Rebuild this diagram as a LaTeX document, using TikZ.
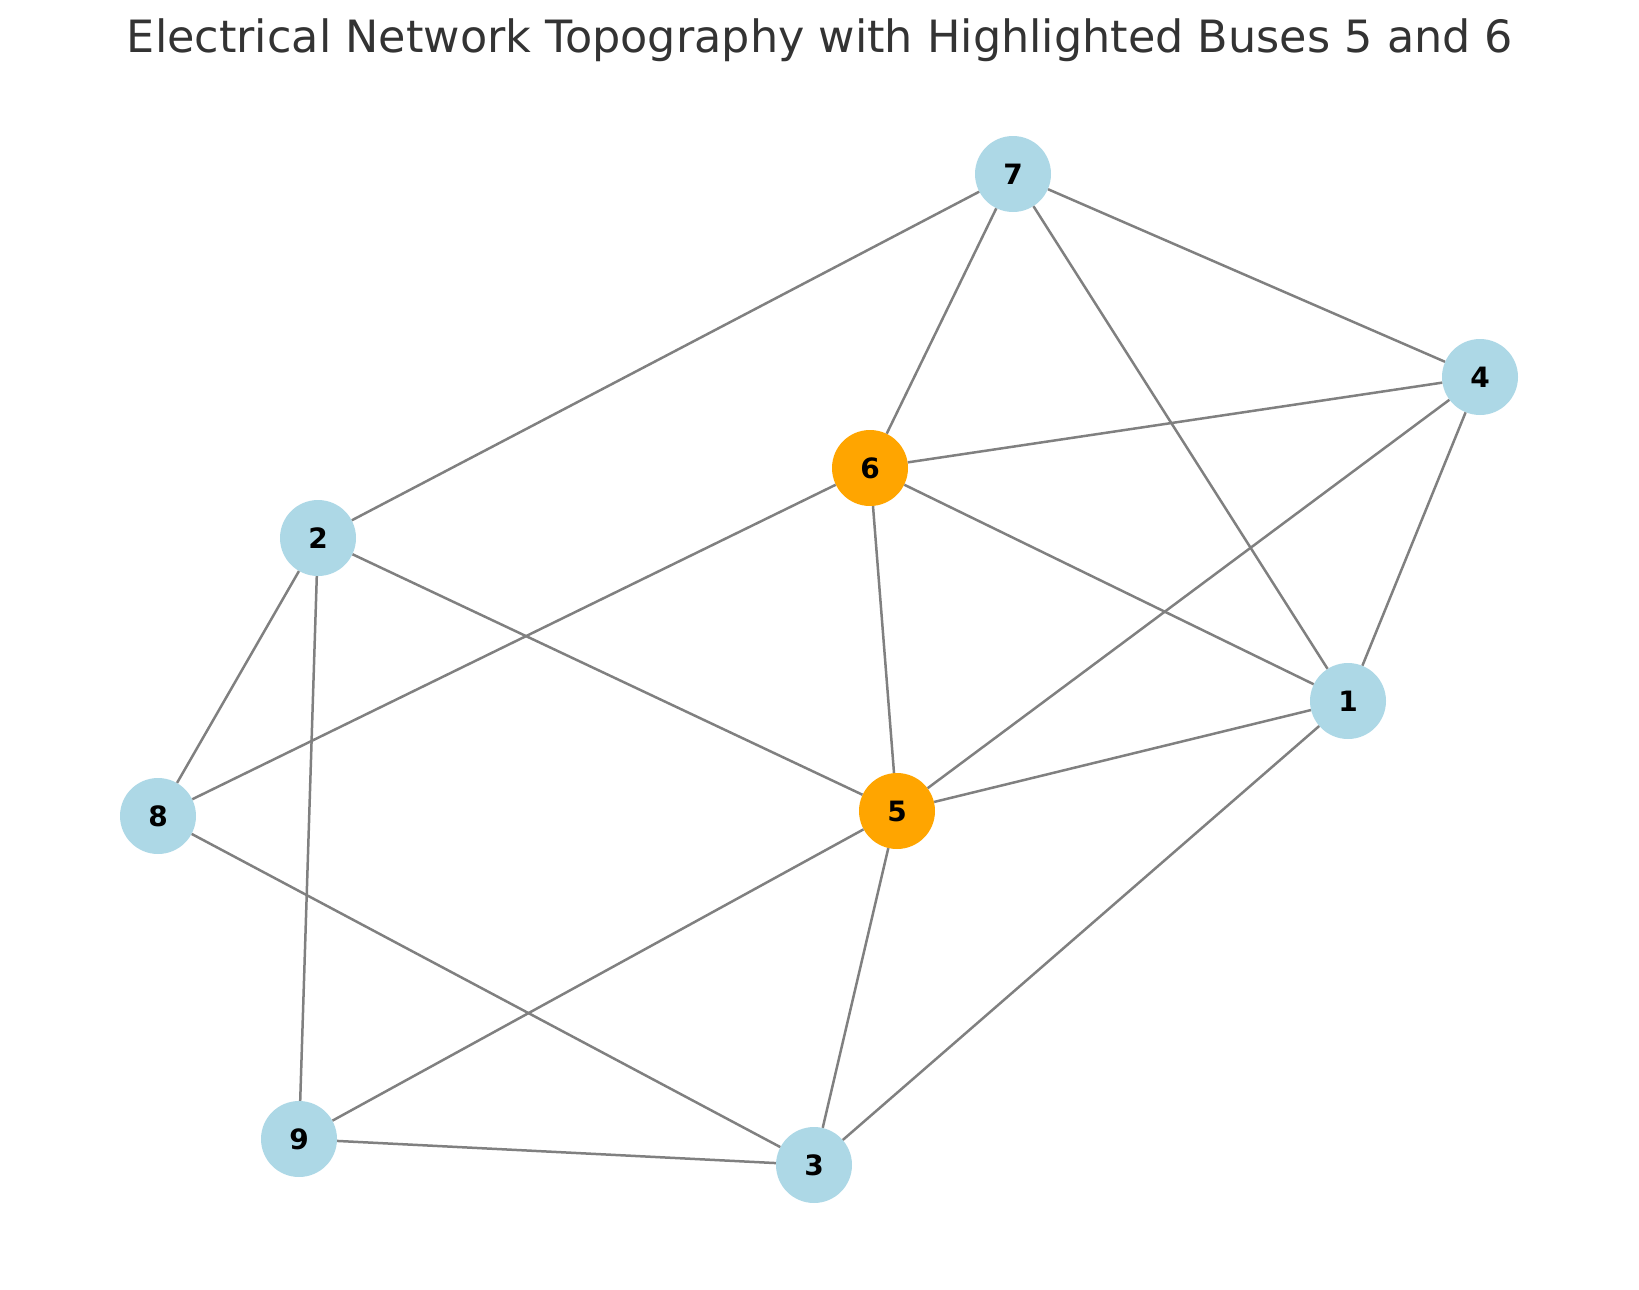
\documentclass[tikz,border=0pt]{standalone}
\usepackage{fontspec}
\setmainfont{DejaVu Sans}
\begin{document}
\begin{tikzpicture}[x=1pt,y=-1pt,
  bus/.style={circle,fill=lb,minimum size=76pt,inner sep=0pt,font=\fontsize{28}{30}\selectfont\bfseries},
  hbus/.style={bus,fill=hl},
  edge/.style={draw=edgegray,line width=2.5pt}]
\definecolor{lb}{HTML}{ADD8E6}
\definecolor{hl}{HTML}{FFA500}
\definecolor{edgegray}{HTML}{808080}
\definecolor{titlec}{HTML}{333333}
\useasboundingbox (0,0) rectangle (1639,1290);
\node[text=titlec,font=\fontsize{44.5}{50}\selectfont] (title) at (820,40) {Electrical Network Topography with Highlighted Buses 5 and 6};
\node[bus]  (n7) at (1013,174) {7};
\node[bus]  (n4) at (1480,377) {4};
\node[hbus] (n6) at (870,468) {6};
\node[bus]  (n2) at (318,538) {2};
\node[bus]  (n1) at (1348,701) {1};
\node[bus]  (n8) at (158,816) {8};
\node[hbus] (n5) at (897,811) {5};
\node[bus]  (n9) at (299,1139) {9};
\node[bus]  (n3) at (814,1165) {3};
\foreach \a/\b in {n7/n2,n7/n6,n7/n1,n7/n4,n4/n6,n4/n5,n4/n1,n6/n8,n6/n5,n6/n1,n2/n5,n2/n8,n2/n9,n1/n5,n1/n3,n8/n3,n5/n9,n5/n3,n9/n3}
  \draw[edge] (\a) -- (\b);
\end{tikzpicture}
\end{document}
